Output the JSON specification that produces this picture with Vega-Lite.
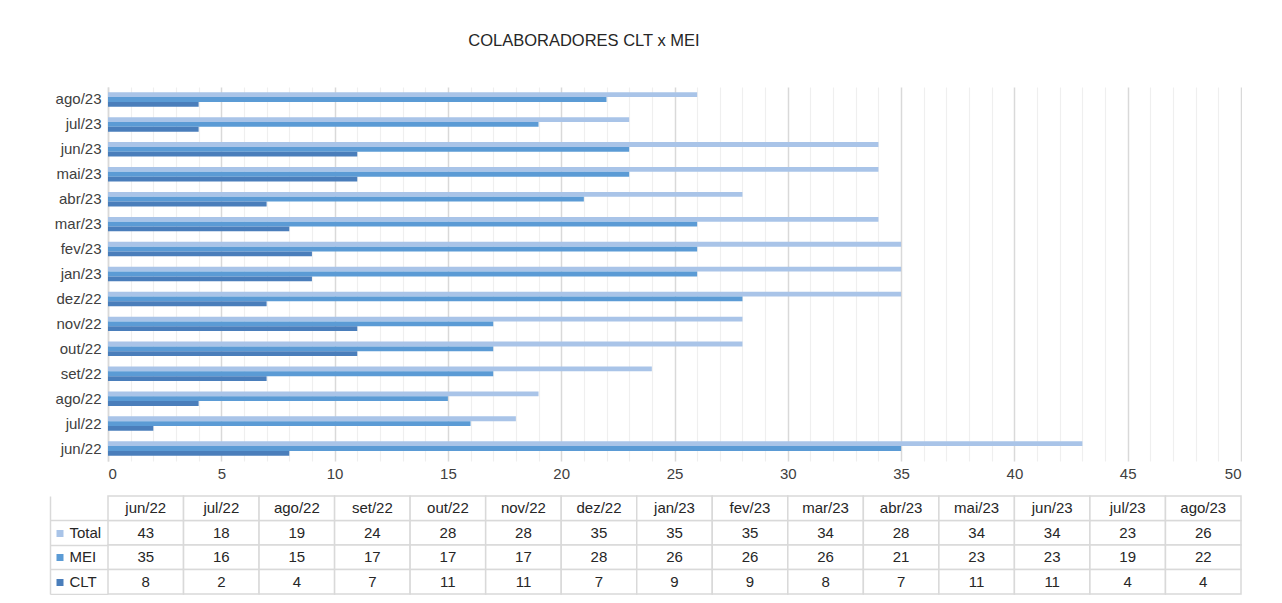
{
  "$schema": "https://vega.github.io/schema/vega-lite/v6.json",
  "padding": {"left": 49, "top": 32, "right": 0, "bottom": 0},
  "background": "white",
  "title": {"text": "COLABORADORES CLT x MEI", "anchor": "start", "dx": 419, "fontSize": 16.5, "fontWeight": "normal", "font": "Liberation Sans", "color": "#262626", "offset": 38},
  "datasets": {
    "rows": [
      {"month": "jun/22", "series": "Total", "value": 43}, {"month": "jun/22", "series": "MEI", "value": 35}, {"month": "jun/22", "series": "CLT", "value": 8},
      {"month": "jul/22", "series": "Total", "value": 18}, {"month": "jul/22", "series": "MEI", "value": 16}, {"month": "jul/22", "series": "CLT", "value": 2},
      {"month": "ago/22", "series": "Total", "value": 19}, {"month": "ago/22", "series": "MEI", "value": 15}, {"month": "ago/22", "series": "CLT", "value": 4},
      {"month": "set/22", "series": "Total", "value": 24}, {"month": "set/22", "series": "MEI", "value": 17}, {"month": "set/22", "series": "CLT", "value": 7},
      {"month": "out/22", "series": "Total", "value": 28}, {"month": "out/22", "series": "MEI", "value": 17}, {"month": "out/22", "series": "CLT", "value": 11},
      {"month": "nov/22", "series": "Total", "value": 28}, {"month": "nov/22", "series": "MEI", "value": 17}, {"month": "nov/22", "series": "CLT", "value": 11},
      {"month": "dez/22", "series": "Total", "value": 35}, {"month": "dez/22", "series": "MEI", "value": 28}, {"month": "dez/22", "series": "CLT", "value": 7},
      {"month": "jan/23", "series": "Total", "value": 35}, {"month": "jan/23", "series": "MEI", "value": 26}, {"month": "jan/23", "series": "CLT", "value": 9},
      {"month": "fev/23", "series": "Total", "value": 35}, {"month": "fev/23", "series": "MEI", "value": 26}, {"month": "fev/23", "series": "CLT", "value": 9},
      {"month": "mar/23", "series": "Total", "value": 34}, {"month": "mar/23", "series": "MEI", "value": 26}, {"month": "mar/23", "series": "CLT", "value": 8},
      {"month": "abr/23", "series": "Total", "value": 28}, {"month": "abr/23", "series": "MEI", "value": 21}, {"month": "abr/23", "series": "CLT", "value": 7},
      {"month": "mai/23", "series": "Total", "value": 34}, {"month": "mai/23", "series": "MEI", "value": 23}, {"month": "mai/23", "series": "CLT", "value": 11},
      {"month": "jun/23", "series": "Total", "value": 34}, {"month": "jun/23", "series": "MEI", "value": 23}, {"month": "jun/23", "series": "CLT", "value": 11},
      {"month": "jul/23", "series": "Total", "value": 23}, {"month": "jul/23", "series": "MEI", "value": 19}, {"month": "jul/23", "series": "CLT", "value": 4},
      {"month": "ago/23", "series": "Total", "value": 26}, {"month": "ago/23", "series": "MEI", "value": 22}, {"month": "ago/23", "series": "CLT", "value": 4}
    ]
  },
  "spacing": 14,
  "vconcat": [
    {
      "width": 1133,
      "height": 374,
      "data": {"name": "rows"},
      "mark": {"type": "bar"},
      "encoding": {
        "y": {
          "field": "month", "type": "nominal",
          "scale": {"domain": ["ago/23", "jul/23", "jun/23", "mai/23", "abr/23", "mar/23", "fev/23", "jan/23", "dez/22", "nov/22", "out/22", "set/22", "ago/22", "jul/22", "jun/22"], "paddingInner": 0.42, "paddingOuter": 0.21},
          "axis": {"title": null, "ticks": false, "domain": true, "domainColor": "#d9d9d9", "domainWidth": 1.5, "labelPadding": 7, "labelFontSize": 15, "labelFont": "Liberation Sans", "labelColor": "#404040"}
        },
        "yOffset": {"field": "series", "type": "nominal", "scale": {"domain": ["Total", "MEI", "CLT"], "paddingInner": 0, "paddingOuter": 0}},
        "x": {
          "field": "value", "type": "quantitative",
          "scale": {"domain": [0, 50], "nice": false},
          "axis": {
            "title": null, "ticks": false, "domain": false,
            "values": [0,1,2,3,4,5,6,7,8,9,10,11,12,13,14,15,16,17,18,19,20,21,22,23,24,25,26,27,28,29,30,31,32,33,34,35,36,37,38,39,40,41,42,43,44,45,46,47,48,49,50],
            "labelExpr": "datum.value % 5 === 0 ? datum.label : ''",
            "grid": true,
            "gridColor": {"condition": {"test": "datum.value % 5 === 0", "value": "#d9d9d9"}, "value": "#efefef"},
            "gridWidth": {"condition": {"test": "datum.value % 5 === 0", "value": 1.5}, "value": 1.2},
            "labelPadding": 5, "labelFontSize": 15, "labelFont": "Liberation Sans", "labelColor": "#404040"
          }
        },
        "color": {"field": "series", "type": "nominal", "scale": {"domain": ["Total", "MEI", "CLT"], "range": ["#a9c4e8", "#5b9bd5", "#4a7ebb"]}, "legend": null}
      }
    },
    {
      "width": 1133,
      "height": 98,
      "data": {"name": "rows"},
      "encoding": {
        "x": {"field": "month", "type": "nominal", "scale": {"domain": ["jun/22", "jul/22", "ago/22", "set/22", "out/22", "nov/22", "dez/22", "jan/23", "fev/23", "mar/23", "abr/23", "mai/23", "jun/23", "jul/23", "ago/23"], "paddingInner": 0, "paddingOuter": 0}, "axis": null}
      },
      "layer": [
        {
          "mark": {"type": "rect", "fill": "white", "stroke": "#d9d9d9", "strokeWidth": 1.5},
          "encoding": {
            "y": {
              "field": "series", "type": "nominal",
              "scale": {"domain": ["hdr", "Total", "MEI", "CLT"], "paddingInner": 0, "paddingOuter": 0},
              "axis": {
                "orient": "left", "title": null, "domain": false, "ticks": true, "tickSize": 58, "bandPosition": 1,
                "tickColor": "#d9d9d9", "tickWidth": 1.5,
                "labelExpr": "datum.value === 'hdr' ? '' : datum.value",
                "labelAlign": "left", "labelPadding": -19, "labelFontSize": 15, "labelFont": "Liberation Sans", "labelColor": "#262626"
              }
            }
          }
        },
        {
          "transform": [{"filter": "datum.series === 'Total'"}],
          "mark": {"type": "rect", "fill": "white", "stroke": "#d9d9d9", "strokeWidth": 1.5},
          "encoding": {
            "y": {"datum": "hdr", "type": "nominal",
              "scale": {"domain": ["hdr", "Total", "MEI", "CLT"], "paddingInner": 0, "paddingOuter": 0},
              "axis": {"orient": "left", "title": null, "offset": 58, "domain": true, "domainColor": "#d9d9d9", "domainWidth": 1.5, "ticks": false, "labels": false}}
          }
        },
        {
          "mark": {"type": "text", "fontSize": 15, "font": "Liberation Sans", "color": "#262626"},
          "encoding": {
            "y": {"field": "series", "type": "nominal",
              "scale": {"domain": ["hdr", "Total", "MEI", "CLT"], "paddingInner": 0, "paddingOuter": 0},
              "axis": {"orient": "left", "title": null, "offset": 45, "domain": false, "labels": false, "ticks": true, "tickSize": 7, "tickWidth": 7, "bandPosition": 0.5,
              "tickColor": {"condition": [{"test": "datum.value === 'Total'", "value": "#a9c4e8"}, {"test": "datum.value === 'MEI'", "value": "#5b9bd5"}, {"test": "datum.value === 'CLT'", "value": "#4a7ebb"}], "value": "transparent"}}},
            "text": {"field": "value", "type": "quantitative"}
          }
        },
        {
          "transform": [{"filter": "datum.series === 'Total'"}],
          "mark": {"type": "text", "fontSize": 15, "font": "Liberation Sans", "color": "#262626"},
          "encoding": {
            "y": {"datum": "hdr", "type": "nominal",
              "scale": {"domain": ["hdr", "Total", "MEI", "CLT"], "paddingInner": 0, "paddingOuter": 0},
              "axis": null},
            "text": {"field": "month", "type": "nominal"}
          }
        }
      ],
      "resolve": {"scale": {"y": "independent"}, "axis": {"y": "independent"}}
    }
  ],
  "config": {"view": {"stroke": null}}
}
